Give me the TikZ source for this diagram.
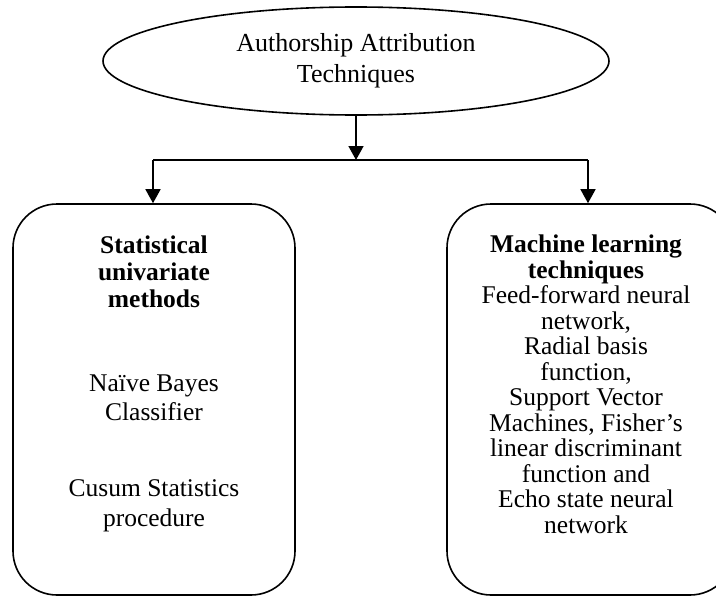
\documentclass[tikz,border=0pt]{standalone}
\usepackage{fontspec}
\setmainfont{Liberation Serif}
\usetikzlibrary{arrows.meta,shapes.geometric}
\begin{document}
\begin{tikzpicture}[x=1pt,y=-1pt,
  line/.style={line width=1.6pt},
  arr/.style={line width=1.6pt,-{Triangle[length=14pt,width=15pt]}},
  box/.style={draw,line width=1.6pt,rounded corners=44pt,inner sep=0pt},
  txt/.style={inner sep=0pt,anchor=base,align=center}]
\useasboundingbox (0,0) rectangle (716,597);
\clip (0,0) rectangle (716,597);
\node[draw,ellipse,line width=1.6pt,minimum width=506pt,minimum height=108pt,inner sep=0pt,align=center,
  font=\fontsize{26}{31}\selectfont] (root) at (356,61) {Authorship Attribution\\Techniques};
\node[box,minimum width=282pt,minimum height=391pt] (left) at (154,399.5) {};
\node[box,minimum width=287pt,minimum height=391pt] (right) at (590.5,399.5) {};
\coordinate (mid) at (356,160);
\coordinate (lj) at (153,160);
\coordinate (rj) at (588,160);
\draw[arr] (root.south) -- (mid);
\draw[line] (lj) -- (rj);
\draw[arr] (lj) -- (lj |- left.north);
\draw[arr] (rj) -- (rj |- right.north);
% left texts (base = baseline of last line)
\node[txt,font=\fontsize{25.5}{27}\selectfont\bfseries] (lt) at (154,307) {Statistical\\univariate\\methods};
\node[txt,font=\fontsize{25.5}{27}\selectfont] (nb) at (154,391) {Naïve Bayes};
\node[txt,font=\fontsize{25.5}{27}\selectfont] (cl) at (154,420) {Classifier};
\node[txt,font=\fontsize{25.5}{30}\selectfont] (cu) at (154,526) {Cusum Statistics\\procedure};
% right text
\node[txt,font=\fontsize{25.5}{25.5}\selectfont] (rt) at (586,533) {{\bfseries Machine learning}\\{\bfseries techniques}\\Feed-forward neural\\network,\\Radial basis\\function,\\Support Vector\\Machines, Fisher’s\\linear discriminant\\function and\\Echo state neural\\network};
\end{tikzpicture}
\end{document}
